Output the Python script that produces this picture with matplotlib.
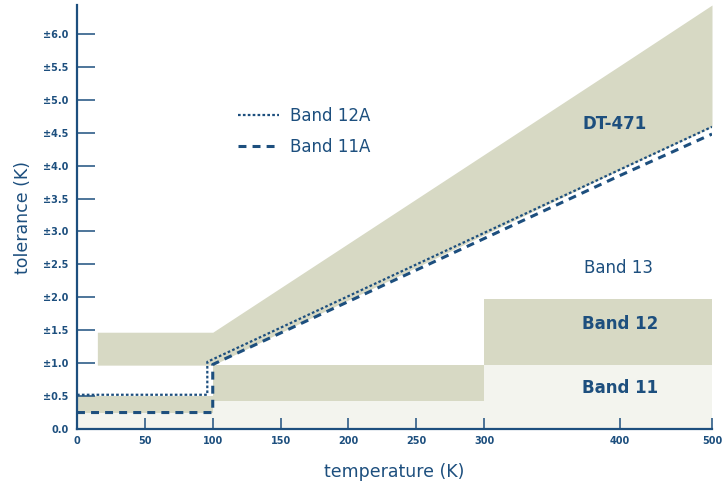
import numpy as np
import matplotlib
matplotlib.use("Agg")
import matplotlib.pyplot as plt

NAVY = "#1d4f7e"
TAN = "#d7d9c4"
LIGHT = "#f3f4ee"

# band steps (K)
band_T = [0, 100, 300, 500]
band11_tol = [0.25, 0.42, 0.97, 0.97]
band12_tol = [0.5, 0.97, 1.97, 1.97]

# DT-471 envelope
dt471_T = [15, 100, 400, 500]
dt471_low = [0.97, 0.97, 3.94, 4.59]
dt471_high = [1.47, 1.47, 5.52, 6.44]

# band 12A / 11A curves
b12a_T = [0, 96, 96, 400, 500]
b12a_tol = [0.52, 0.52, 1.02, 3.94, 4.59]
b11a_T = [0, 100, 100, 400, 500]
b11a_tol = [0.25, 0.25, 0.98, 3.85, 4.48]

xticks = [0, 50, 100, 150, 200, 250, 300, 400, 500]
yticks = [0.0, 0.5, 1.0, 1.5, 2.0, 2.5, 3.0, 3.5, 4.0, 4.5, 5.0, 5.5, 6.0]
ylabels = ["0.0"] + ["\u00b1%.1f" % v for v in yticks[1:]]


# x axis is squeezed above 400 K
def fwd(t):
    t = np.asarray(t, dtype=float)
    return np.where(t <= 400, t, 400 + (t - 400) * 0.678)

def inv(s):
    s = np.asarray(s, dtype=float)
    return np.where(s <= 400, s, 400 + (s - 400) / 0.678)


fig = plt.figure(figsize=(7.25, 4.9), dpi=100)
ax = fig.add_axes([77 / 725, 61 / 490, 635 / 725, 424 / 490])
ax.set_xscale("function", functions=(fwd, inv))
ax.set_xlim(0, 500)
ax.set_ylim(0, 6.44)

ax.fill_between(band_T, 0, band11_tol, step="post", color=LIGHT, lw=0)
ax.fill_between(band_T, band11_tol, band12_tol, step="post", color=TAN, lw=0)
ax.fill_between(dt471_T, dt471_low, dt471_high, color=TAN, lw=0)

l12a, = ax.plot(b12a_T, b12a_tol, color=NAVY, lw=1.6, linestyle=(0, (1.2, 1.0)),
                label="Band 12A")
l11a, = ax.plot(b11a_T, b11a_tol, color=NAVY, lw=2.2, linestyle=(0, (2.6, 2.0)),
                label="Band 11A")

ax.legend(handles=[l12a, l11a], frameon=False, loc="upper left",
          bbox_to_anchor=(0.23, 0.795), handlelength=2.45, handletextpad=0.65,
          labelspacing=0.8, prop={"size": 12}, labelcolor=NAVY)

ax.text(396, 4.63, "DT-471", color=NAVY, fontsize=12, fontweight="bold",
        ha="center", va="center")
ax.text(399, 2.45, "Band 13", color=NAVY, fontsize=12, ha="center", va="center")
ax.text(400, 1.6, "Band 12", color=NAVY, fontsize=12, fontweight="bold",
        ha="center", va="center")
ax.text(400, 0.62, "Band 11", color=NAVY, fontsize=12, fontweight="bold",
        ha="center", va="center")

for s in ["top", "right"]:
    ax.spines[s].set_visible(False)
for s in ["left", "bottom"]:
    ax.spines[s].set_color(NAVY)
    ax.spines[s].set_linewidth(1.6)

ax.set_xticks(xticks)
ax.set_xticklabels([str(t) for t in xticks])
ax.set_yticks(yticks)
ax.set_yticklabels(ylabels)
ax.minorticks_off()
ax.tick_params(axis="y", direction="in", length=13, width=1.1, color=NAVY,
               labelcolor=NAVY, labelsize=7, pad=6)
ax.tick_params(axis="x", direction="in", length=8, width=1.1, color=NAVY,
               labelcolor=NAVY, labelsize=7, pad=5)
for lab in ax.get_xticklabels() + ax.get_yticklabels():
    lab.set_fontweight("bold")

ax.set_xlabel("temperature (K)", color=NAVY, fontsize=12.5, labelpad=12)
ax.set_ylabel("tolerance (K)", color=NAVY, fontsize=12.5, labelpad=8)

fig.savefig("out.png", dpi=100)
